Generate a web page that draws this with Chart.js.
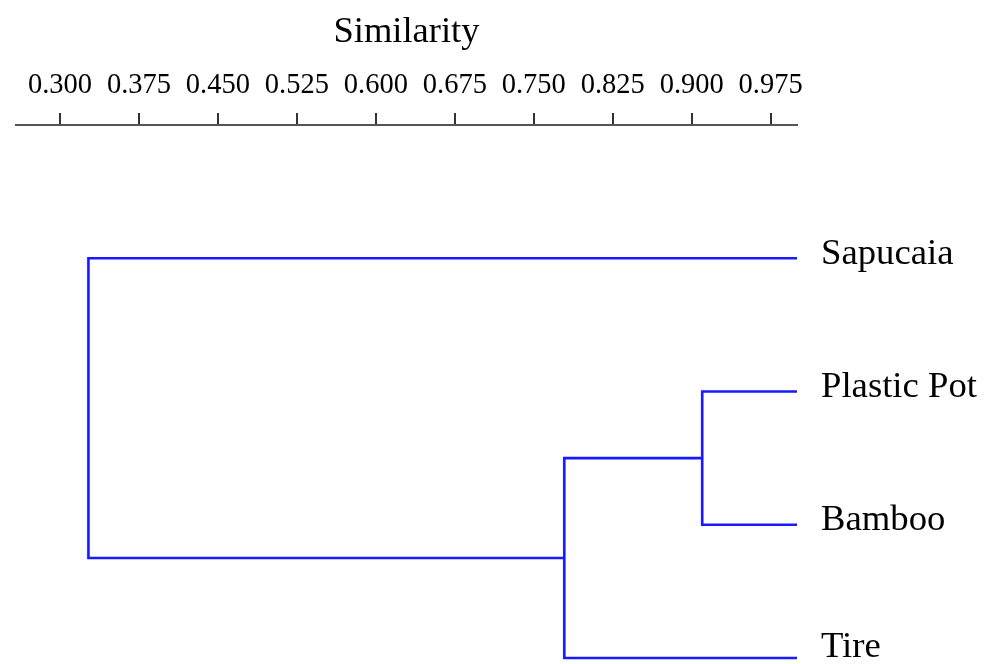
<!DOCTYPE html>
<html>
<head>
<meta charset="utf-8">
<script src="https://cdn.jsdelivr.net/npm/chart.js@4"></script>
<style>
  html, body { margin: 0; padding: 0; background: #ffffff; }
  #wrap { width: 990px; height: 664px; position: relative; }
</style>
</head>
<body>
<div id="wrap"><canvas id="c"></canvas></div>
<script>
// Leaves of the dendrogram, top to bottom
const leaves = ['Sapucaia', 'Plastic Pot', 'Bamboo', 'Tire'];
// Merges: children indices (0-3 leaves, 4+ earlier merges) and similarity level
const mergeA = [1, 4, 0];
const mergeB = [2, 3, 5];
const mergeSimilarity = [0.910, 0.779, 0.327];
// Similarity of a leaf with itself
const leafSimilarity = 1.0;
// Axis tick values
const tickValues = [0.300, 0.375, 0.450, 0.525, 0.600, 0.675, 0.750, 0.825, 0.900, 0.975];
const axisMin = 0.2582;
const axisMax = 1.0;

// Node positions built from the arrays
const nodeX = leaves.map(() => leafSimilarity);
const nodeY = leaves.map((_, i) => i);
const datasets = [];
mergeA.forEach((a, k) => {
  const b = mergeB[k];
  const h = mergeSimilarity[k];
  datasets.push({
    data: [
      { x: nodeX[a], y: nodeY[a] },
      { x: h, y: nodeY[a] },
      { x: h, y: nodeY[b] },
      { x: nodeX[b], y: nodeY[b] }
    ]
  });
  nodeX.push(h);
  nodeY.push((nodeY[a] + nodeY[b]) / 2);
});

const serif = "'Liberation Serif', 'Times New Roman', Times, serif";
const blue = 'rgb(25,25,255)';

// keep leaf labels fully inside the canvas
const keepLabelsInside = {
  id: 'keepLabelsInside',
  beforeDraw(chart) {
    const s = chart.scales.y;
    const half = s.options.ticks.font.size * 0.44;
    s.getLabelItems().forEach(it => {
      const lim = chart.height - half;
      if (it.options.translation[1] > lim) it.options.translation[1] = lim;
    });
  }
};

new Chart(document.getElementById('c'), {
  type: 'scatter',
  data: {
    datasets: datasets.map(d => Object.assign(d, {
      showLine: true,
      borderColor: blue,
      backgroundColor: blue,
      borderWidth: 2.6,
      pointRadius: 0,
      pointHoverRadius: 0,
      tension: 0,
      fill: false
    }))
  },
  plugins: [keepLabelsInside],
  options: {
    responsive: true,
    maintainAspectRatio: false,
    animation: false,
    layout: { padding: { left: 16, right: 0, top: 0, bottom: 0 } },
    plugins: { legend: { display: false }, tooltip: { enabled: false } },
    scales: {
      x: {
        type: 'linear',
        position: 'top',
        min: axisMin,
        max: axisMax,
        afterBuildTicks: s => { s.ticks = tickValues.map(v => ({ value: v })); },
        afterFit: s => { s.height = 125; s.paddingLeft = 0; s.paddingRight = 0; },
        ticks: {
          autoSkip: false,
          maxRotation: 0,
          color: '#000',
          padding: 10,
          font: { family: serif, size: 28.5 },
          callback: v => Number(v).toFixed(3)
        },
        grid: {
          display: true,
          drawOnChartArea: false,
          drawTicks: true,
          tickLength: 12,
          color: '#333',
          lineWidth: 2
        },
        border: { display: true, color: '#555', width: 2 },
        title: {
          display: true,
          text: 'Similarity',
          color: '#000',
          font: { family: serif, size: 36.5 },
          padding: { top: 11, bottom: 0 }
        }
      },
      y: {
        type: 'linear',
        position: 'right',
        reverse: true,
        min: -1,
        max: 3.045,
        afterBuildTicks: s => { s.ticks = leaves.map((_, i) => ({ value: i })); },
        afterFit: s => { s.width = 193; s.paddingTop = 0; s.paddingBottom = 0; },
        ticks: {
          autoSkip: false,
          color: '#000',
          padding: 24,
          labelOffset: -4,
          font: { family: serif, size: 36.7 },
          callback: v => leaves[v]
        },
        grid: { display: false, drawTicks: false },
        border: { display: false }
      }
    }
  }
});
</script>
</body>
</html>
